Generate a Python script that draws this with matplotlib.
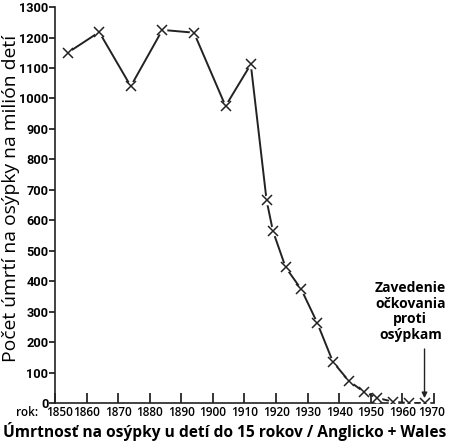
import matplotlib.pyplot as plt
from matplotlib.transforms import ScaledTranslation

# measles deaths per million children, England + Wales
years = [1854, 1864, 1874, 1884, 1894, 1904, 1912, 1917, 1919, 1923, 1928,
         1933, 1938, 1943, 1948, 1952, 1957, 1962, 1967]
deaths = [1150, 1218, 1040, 1225, 1216, 975, 1112, 665, 565, 446, 373,
          264, 135, 73, 35, 17, 4, 0, 0]

x_ticks = list(range(1850, 1971, 10))
y_ticks = list(range(0, 1301, 100))
vaccine_year = 1967


def main():
    plt.rcParams['font.family'] = ['Open Sans', 'DejaVu Sans']
    narrow = ['Liberation Sans Narrow', 'Roboto', 'DejaVu Sans']
    fig = plt.figure(figsize=(4.5, 4.43), dpi=100)
    ax = fig.add_axes([0.1222, 0.0903, 0.8422, 0.8937])

    ax.plot(years, deaths, '-', color='#222222', lw=1.4, zorder=2)
    ax.plot(years, deaths, 'o', ms=7, mfc='white', mec='none', zorder=3)
    ax.plot(years, deaths, 'x', ms=6.5, mew=1.1, color='#222222', zorder=4)

    ax.set_xlim(1850, 1970)
    ax.set_ylim(0, 1300)
    ax.spines['top'].set_visible(False)
    ax.spines['right'].set_visible(False)
    for s in ['left', 'bottom']:
        ax.spines[s].set_linewidth(1.2)
        ax.spines[s].set_color('#222222')

    ax.set_xticks(x_ticks)
    ax.set_xticklabels([str(y) for y in x_ticks], fontsize=8.5, fontweight='semibold')
    ax.set_yticks(y_ticks)
    ax.set_yticklabels([str(v) for v in y_ticks], fontsize=9.2, fontweight='bold',
                       family=narrow)
    ax.tick_params(axis='x', direction='in', length=7, width=1.1, pad=2)
    ax.tick_params(axis='y', direction='out', length=4, width=1.1, pad=0.8)

    # first year label sits a little right of the axis corner
    first = ax.get_xticklabels()[0]
    first.set_transform(first.get_transform() + ScaledTranslation(5 / 100, 0, fig.dpi_scale_trans))
    last = ax.get_xticklabels()[-1]
    last.set_transform(last.get_transform() + ScaledTranslation(-2 / 100, 0, fig.dpi_scale_trans))

    fig.text(11 / 450, 0.553, "Počet úmrtí na osýpky na milión detí", fontsize=13.9,
             rotation=90, ha='center', va='center')

    fig.text(0.035, 0.068, "rok:", fontsize=8.5, fontweight='semibold', va='center')
    fig.text(0.5, 0.025, "Úmrtnosť na osýpky u detí do 15 rokov / Anglicko + Wales",
             fontsize=11.2, fontweight='bold', ha='center', va='center')

    ax.annotate("Zavedenie\nočkovania\nproti\nosýpkam",
                xy=(vaccine_year, 16), xytext=(1962.5, 200),
                ha='center', va='bottom', fontsize=10, fontweight='bold',
                linespacing=1.15,
                arrowprops=dict(arrowstyle='-|>', color='#222222', lw=1.0,
                                mutation_scale=8, shrinkA=3, shrinkB=0,
                                relpos=(0.7, 0)))

    plt.savefig("out.png", dpi=100)
    plt.close(fig)


if __name__ == "__main__":
    main()
